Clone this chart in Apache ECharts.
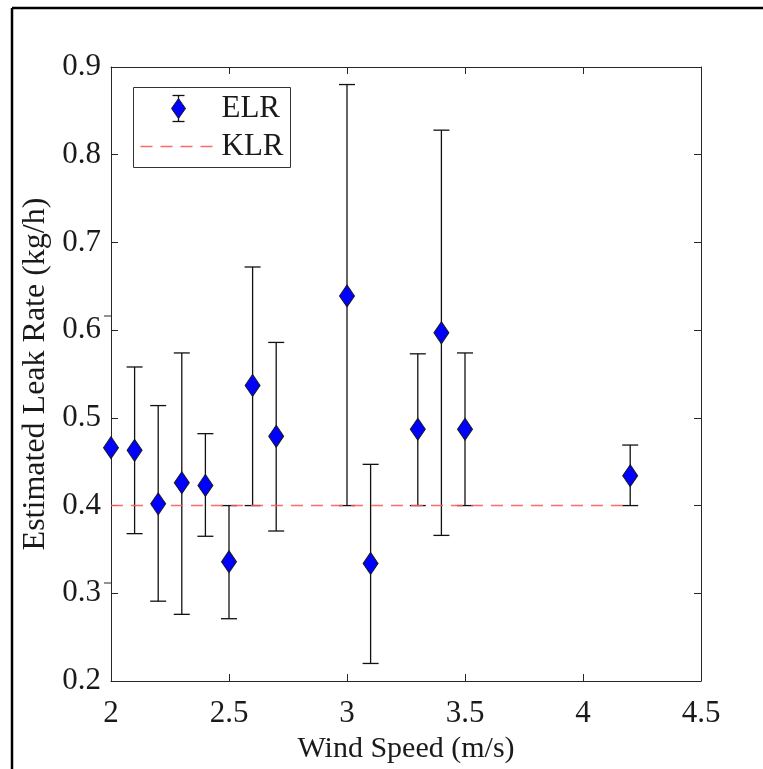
<!DOCTYPE html>
<html>
<head>
<meta charset="utf-8">
<script src="https://cdn.jsdelivr.net/npm/echarts@6/dist/echarts.min.js"></script>
<style>
  html, body { margin: 0; padding: 0; background: #fff; }
  #chart { width: 763px; height: 769px; }
</style>
</head>
<body>
<div id="chart"></div>
<script>
// wind speed (m/s) and estimated leak rate (kg/h)
var windSpeed = [2.0, 2.1, 2.2, 2.3, 2.4, 2.5, 2.6, 2.7, 3.0, 3.1, 3.3, 3.4, 3.5, 4.2];
var elr     = [0.466, 0.463, 0.402, 0.426, 0.423, 0.336, 0.537, 0.479, 0.639, 0.334, 0.487, 0.597, 0.487, 0.434];
var elrLow  = [null, 0.368, 0.291, 0.276, 0.365, 0.271, 0.400, 0.371, 0.400, 0.220, 0.400, 0.366, 0.400, 0.400];
var elrHigh = [null, 0.558, 0.514, 0.574, 0.482, 0.400, 0.672, 0.586, 0.880, 0.447, 0.573, 0.828, 0.574, 0.469];
var klrX = [2.0, 4.2];
var klr = 0.4;
var xTicks = [2, 2.5, 3, 3.5, 4, 4.5];
var yTicks = [0.2, 0.3, 0.4, 0.5, 0.6, 0.7, 0.8, 0.9];

var FONT = 'Liberation Serif';
var axisCol = '#262626';

var pts = windSpeed.map(function (x, i) { return [x, elr[i]]; });
var bars = [];
windSpeed.forEach(function (x, i) {
  if (elrLow[i] != null) bars.push([x, elrLow[i], elrHigh[i]]);
});
var klrLine = klrX.map(function (x) { return [x, klr]; });

var myChart = echarts.init(document.getElementById('chart'));

function baseX(show) {
  return {
    type: 'value', min: xTicks[0], max: xTicks[xTicks.length - 1], interval: 0.5,
    axisLine: { show: true, lineStyle: { color: axisCol, width: 1 } },
    axisTick: { show: true, inside: true, length: 7, lineStyle: { color: axisCol } },
    axisLabel: { show: show, fontFamily: FONT, fontSize: 31, color: '#1a1a1a', margin: 17 },
    splitLine: { show: false }
  };
}
function baseY(show) {
  return {
    type: 'value', min: yTicks[0], max: yTicks[yTicks.length - 1], interval: 0.1,
    axisLine: { show: true, lineStyle: { color: axisCol, width: 1 } },
    axisTick: { show: true, inside: true, length: 7, lineStyle: { color: axisCol } },
    axisLabel: {
      show: show, fontFamily: FONT, fontSize: 31, color: '#1a1a1a', margin: 10,
      formatter: function (v) { return v.toFixed(1); }
    },
    splitLine: { show: false }
  };
}

var xBottom = baseX(true);
xBottom.name = 'Wind Speed (m/s)';
xBottom.nameLocation = 'middle';
xBottom.nameGap = 53;
xBottom.nameTextStyle = { fontFamily: FONT, fontSize: 30, color: '#1a1a1a' };
xBottom.axisLabel.formatter = function (v) { return String(v); };
var xTop = baseX(false);
xTop.position = 'top';

var yLeft = baseY(true);
yLeft.name = 'Estimated Leak Rate (kg/h)';
yLeft.nameLocation = 'middle';
yLeft.nameGap = 55;
yLeft.nameTextStyle = { fontFamily: FONT, fontSize: 32, color: '#1a1a1a' };
var yRight = baseY(false);
yRight.position = 'right';

var option = {
  backgroundColor: '#fff',
  animation: false,
  grid: { left: 111, right: 62, top: 67, bottom: 86 },
  xAxis: [xBottom, xTop],
  yAxis: [yLeft, yRight],
  series: [
    {
      name: 'ELR bars',
      type: 'custom',
      xAxisIndex: 0, yAxisIndex: 0,
      data: bars,
      z: 2,
      renderItem: function (params, api) {
        var x = api.value(0);
        var lo = api.coord([x, api.value(1)]);
        var hi = api.coord([x, api.value(2)]);
        var hw = 8;
        var st = { stroke: '#111', lineWidth: 1.3 };
        return {
          type: 'group',
          children: [
            { type: 'line', shape: { x1: lo[0], y1: lo[1], x2: hi[0], y2: hi[1] }, style: st },
            { type: 'line', shape: { x1: lo[0] - hw, y1: lo[1], x2: lo[0] + hw, y2: lo[1] }, style: st },
            { type: 'line', shape: { x1: hi[0] - hw, y1: hi[1], x2: hi[0] + hw, y2: hi[1] }, style: st }
          ]
        };
      }
    },
    {
      name: 'KLR',
      type: 'line',
      data: klrLine,
      symbol: 'none',
      z: 3,
      lineStyle: { color: '#ff5a5a', width: 1.5, type: [12, 8], opacity: 0.9 }
    },
    {
      name: 'ELR',
      type: 'scatter',
      data: pts,
      symbol: 'diamond',
      symbolSize: [15, 22],
      z: 4,
      itemStyle: { color: '#0000ff', borderColor: '#1a1a1a', borderWidth: 1, opacity: 1 }
    }
  ],
  graphic: [
    // figure frame (top and left edges)
    { type: 'line', shape: { x1: 12, y1: 8, x2: 763, y2: 8 }, style: { stroke: '#000', lineWidth: 2.5 } },
    { type: 'line', shape: { x1: 12, y1: 8, x2: 12, y2: 769 }, style: { stroke: '#000', lineWidth: 2.5 } },
    // stray ticks left of the y axis
    { type: 'line', shape: { x1: 104, y1: 316, x2: 111, y2: 316 }, style: { stroke: axisCol, lineWidth: 1 } },
    { type: 'line', shape: { x1: 104, y1: 583, x2: 111, y2: 583 }, style: { stroke: axisCol, lineWidth: 1 } },
    // legend
    {
      type: 'group', left: 133, top: 87,
      children: [
        { type: 'rect', shape: { x: 0, y: 0, width: 157, height: 80 }, style: { fill: '#fff', stroke: '#333', lineWidth: 1 } },
        { type: 'line', shape: { x1: 45, y1: 8, x2: 45, y2: 34 }, style: { stroke: '#111', lineWidth: 1.3 } },
        { type: 'line', shape: { x1: 39, y1: 8, x2: 51, y2: 8 }, style: { stroke: '#111', lineWidth: 1.3 } },
        { type: 'line', shape: { x1: 39, y1: 34, x2: 51, y2: 34 }, style: { stroke: '#111', lineWidth: 1.3 } },
        { type: 'polygon', shape: { points: [[45, 11], [52, 21], [45, 31], [38, 21]] }, style: { fill: '#0000ff', stroke: '#1a1a1a', lineWidth: 1 } },
        { type: 'text', style: { x: 88, y: 21, text: 'ELR', font: '31px "Liberation Serif"', fill: '#1a1a1a', verticalAlign: 'middle' } },
        { type: 'line', shape: { x1: 7, y1: 59, x2: 80, y2: 59 }, style: { stroke: '#ff5a5a', lineWidth: 1.5, lineDash: [12, 8], opacity: 0.9 } },
        { type: 'text', style: { x: 88, y: 59, text: 'KLR', font: '31px "Liberation Serif"', fill: '#1a1a1a', verticalAlign: 'middle' } }
      ]
    }
  ]
};

myChart.setOption(option);
</script>
</body>
</html>
